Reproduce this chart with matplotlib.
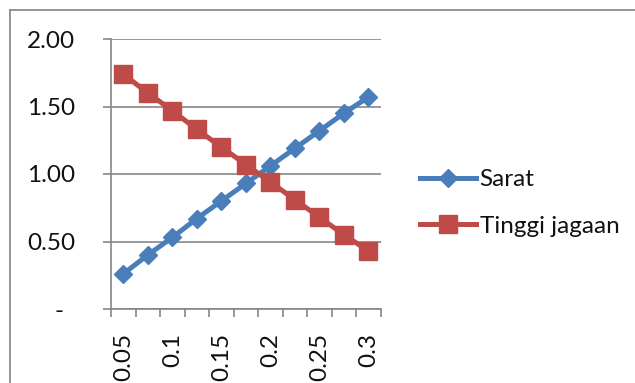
import matplotlib
matplotlib.use("Agg")
import matplotlib.pyplot as plt
import matplotlib.transforms as mtransforms
from matplotlib.lines import Line2D

# Data
categories = ["0.05", "0.075", "0.1", "0.125", "0.15", "0.175",
              "0.2", "0.225", "0.25", "0.275", "0.3"]
sarat = [0.26, 0.40, 0.53, 0.67, 0.80, 0.93, 1.06, 1.19, 1.32, 1.45, 1.57]
tinggi_jagaan = [1.74, 1.60, 1.47, 1.33, 1.20, 1.07, 0.94, 0.81, 0.68, 0.55, 0.43]
y_ticks = [0.0, 0.5, 1.0, 1.5, 2.0]
y_tick_labels = ["-", "0.50", "1.00", "1.50", "2.00"]

BLUE = "#4A7EBB"
RED = "#BE4B48"
GRID = "#868686"
FONT = "Lato"
FS = 17.5

W, H, DPI = 635, 383, 100
fig = plt.figure(figsize=(W / DPI, H / DPI), dpi=DPI)
fig.patch.set_facecolor("white")

# chart frame (top and left edges visible)
fig.add_artist(Line2D([10 / W, 1.0], [1 - 10 / H, 1 - 10 / H],
                      transform=fig.transFigure, color="#8C8C8C", lw=1.3))
fig.add_artist(Line2D([10 / W, 10 / W], [0.0, 1 - 10 / H],
                      transform=fig.transFigure, color="#8C8C8C", lw=1.3))

left, right, top, bottom = 111, 380.7, 39, 309
ax = fig.add_axes([left / W, 1 - bottom / H, (right - left) / W, (bottom - top) / H])

x = list(range(len(categories)))
ax.plot(x, sarat, color=BLUE, lw=3.6, marker="D", ms=9.5,
        markerfacecolor=BLUE, markeredgecolor=BLUE, label="Sarat", zorder=3)
ax.plot(x, tinggi_jagaan, color=RED, lw=3.6, marker="s", ms=12.5,
        markerfacecolor=RED, markeredgecolor=RED, label="Tinggi jagaan", zorder=3)

ax.set_xlim(-0.5, len(categories) - 0.5)
ax.set_ylim(0, 2.0)

# y axis
ax.set_yticks(y_ticks)
ax.set_yticklabels(y_tick_labels, fontfamily=FONT, fontsize=FS, color="#111111")
ax.tick_params(axis="y", length=6, width=1.2, color=GRID, pad=20)
ax.yaxis.grid(True, color=GRID, lw=1.2)
ax.set_axisbelow(True)
zero_lbl = ax.get_yticklabels()[0]
zero_lbl.set_transform(zero_lbl.get_transform() +
                       mtransforms.ScaledTranslation(-11 / DPI, 0, fig.dpi_scale_trans))

# x axis: category labels every other point, tick marks between categories
ax.set_xticks(x[::2])
ax.set_xticklabels(categories[::2], rotation=90, fontfamily=FONT, fontsize=FS,
                   color="#111111")
ax.set_xticks([i - 0.5 for i in range(len(categories) + 1)], minor=True)
ax.tick_params(axis="x", which="major", length=0, pad=17)
ax.tick_params(axis="x", which="minor", length=6, width=1.2, color=GRID)

for side in ["top", "right"]:
    ax.spines[side].set_visible(False)
for side in ["left", "bottom"]:
    ax.spines[side].set_color(GRID)
    ax.spines[side].set_linewidth(1.2)

leg = fig.legend(loc="center left", bbox_to_anchor=(420 / W, 1 - 203 / H),
                 frameon=False, prop={"family": FONT, "size": FS},
                 handlelength=2.3, handletextpad=0.15, labelspacing=1.05,
                 borderpad=0, borderaxespad=0)
for t in leg.get_texts():
    t.set_color("#111111")

fig.savefig("out.png", dpi=DPI, facecolor="white")
